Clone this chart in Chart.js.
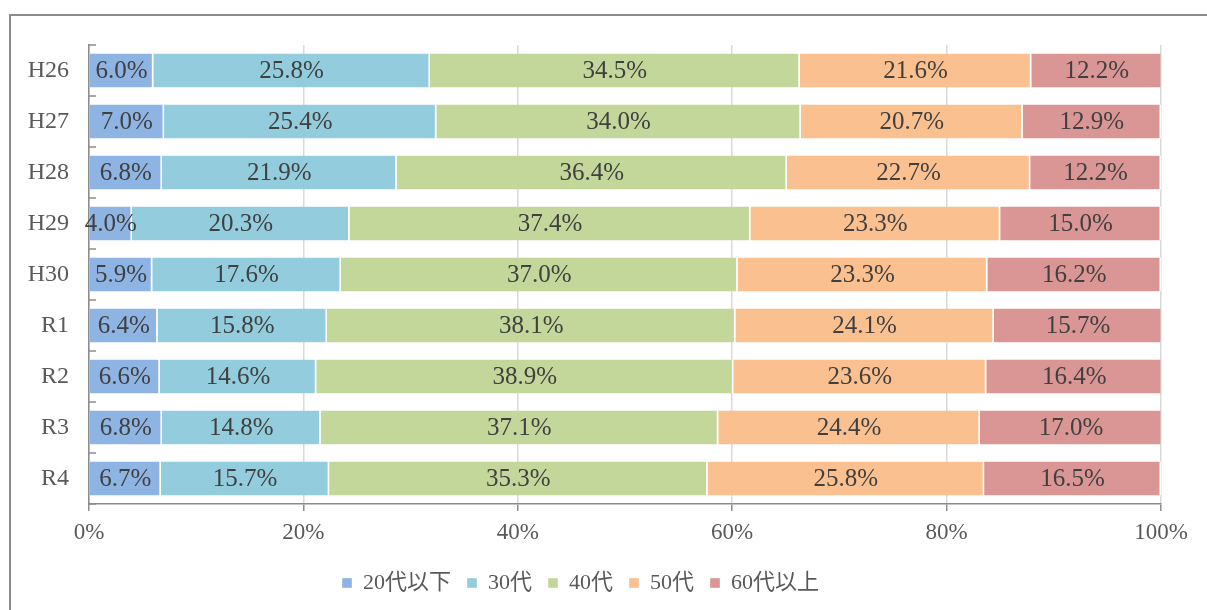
<!DOCTYPE html>
<html>
<head>
<meta charset="utf-8">
<script src="https://cdn.jsdelivr.net/npm/chart.js@4/dist/chart.umd.min.js"></script>
<style>
  html, body { margin: 0; padding: 0; background: #fff; }
  #wrap { position: relative; width: 1207px; height: 610px; overflow: hidden; }
  #frame { position: absolute; left: 9px; top: 14px; width: 1300px; height: 700px;
           border-left: 2px solid #8c8c8c; border-top: 2px solid #8c8c8c; }
  canvas { position: absolute; left: 0; top: 0; }
</style>
</head>
<body>
<div id="wrap">
  <div id="frame"></div>
  <canvas id="chart" width="1207" height="610"></canvas>
</div>
<script>
// 年度
const years = ['H26', 'H27', 'H28', 'H29', 'H30', 'R1', 'R2', 'R3', 'R4'];
// 年代別の割合 (%)
const age20 = [6.0, 7.0, 6.8, 4.0, 5.9, 6.4, 6.6, 6.8, 6.7];
const age30 = [25.8, 25.4, 21.9, 20.3, 17.6, 15.8, 14.6, 14.8, 15.7];
const age40 = [34.5, 34.0, 36.4, 37.4, 37.0, 38.1, 38.9, 37.1, 35.3];
const age50 = [21.6, 20.7, 22.7, 23.3, 23.3, 24.1, 23.6, 24.4, 25.8];
const age60 = [12.2, 12.9, 12.2, 15.0, 16.2, 15.7, 16.4, 17.0, 16.5];
const seriesNames = ['20代以下', '30代', '40代', '50代', '60代以上'];
const colors = ['#8EB4E3', '#93CDDD', '#C4D79B', '#FAC090', '#D99694'];

const FONT = "'Liberation Serif', 'Noto Sans CJK JP', serif";

// 各区間の中央にラベルを描く
const barLabels = {
    id: 'barLabels',
    afterDatasetsDraw(chart) {
        const ctx = chart.ctx;
        ctx.save();
        ctx.font = '25px ' + FONT;
        ctx.fillStyle = '#404040';
        ctx.textAlign = 'center';
        ctx.textBaseline = 'middle';
        chart.data.datasets.forEach((ds, i) => {
            chart.getDatasetMeta(i).data.forEach((bar, j) => {
                const cx = (bar.x + bar.base) / 2;
                ctx.fillText(ds.data[j].toFixed(1) + '%', cx, bar.y + 1);
            });
        });
        ctx.restore();
    }
};

// 縦軸の目盛り線（内向き）
const innerTicks = {
    id: 'innerTicks',
    afterDraw(chart) {
        const y = chart.scales.y;
        const x0 = chart.chartArea.left;
        const ctx = chart.ctx;
        ctx.save();
        ctx.strokeStyle = '#8c8c8c';
        ctx.lineWidth = 1.5;
        for (let i = 0; i <= years.length; i++) {
            const py = y.getPixelForValue(i - 0.5);
            ctx.beginPath();
            ctx.moveTo(x0, py);
            ctx.lineTo(x0 + 7, py);
            ctx.stroke();
        }
        ctx.restore();
    }
};

const datasets = [age20, age30, age40, age50, age60].map((d, i) => ({
    label: seriesNames[i],
    data: d,
    backgroundColor: colors[i],
    borderColor: '#ffffff',
    borderWidth: { left: 0, right: 1.5, top: 0, bottom: 0 },
    borderSkipped: false,
    barPercentage: 0.67,
    categoryPercentage: 1.0
}));

new Chart(document.getElementById('chart'), {
    type: 'bar',
    data: { labels: years, datasets: datasets },
    options: {
        indexAxis: 'y',
        responsive: false,
        animation: false,
        layout: { padding: { left: 0, right: 46, top: 45, bottom: 6 } },
        plugins: {
            legend: {
                position: 'bottom',
                labels: {
                    font: { family: FONT, size: 22 },
                    color: '#595959',
                    boxWidth: 10,
                    boxHeight: 10,
                    padding: 16
                }
            },
            tooltip: { enabled: false }
        },
        scales: {
            x: {
                stacked: true,
                min: 0,
                max: 100,
                ticks: {
                    stepSize: 20,
                    callback: v => v + '%',
                    font: { family: FONT, size: 23 },
                    color: '#595959',
                    padding: 8
                },
                grid: {
                    color: '#D9D9D9',
                    lineWidth: 1.5,
                    tickColor: '#8c8c8c',
                    tickLength: 7
                },
                border: { color: '#8c8c8c', width: 1.5 },
                afterFit: s => { s.height = 52; }
            },
            y: {
                stacked: true,
                ticks: {
                    font: { family: FONT, size: 24 },
                    color: '#595959',
                    padding: 20
                },
                grid: { display: false, drawTicks: false },
                border: { color: '#8c8c8c', width: 1.5 },
                afterFit: s => { s.width = 89; }
            }
        }
    },
    plugins: [barLabels, innerTicks]
});
</script>
</body>
</html>
